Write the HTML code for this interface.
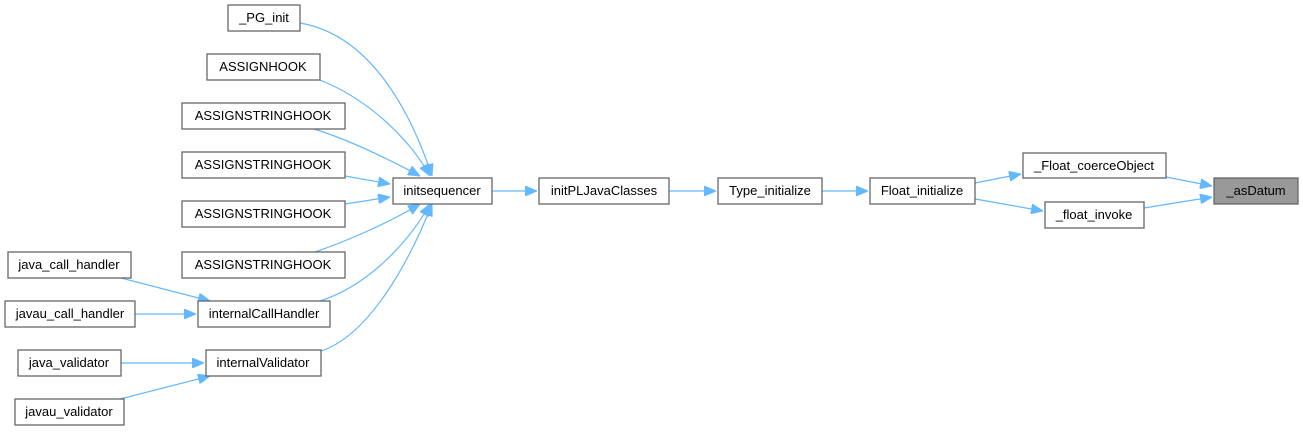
<!DOCTYPE html>
<html><head><meta charset="utf-8"><style>
body{margin:0;background:#fff;}
svg text{font-family:"Liberation Sans",Arial,sans-serif;font-size:13px;fill:#000;text-anchor:middle;}
.n{fill:#fff;stroke:#666;stroke-width:1.3;}
.e{fill:none;stroke:#63b8ff;stroke-width:1.2;}
</style></head><body>
<svg width="1303" height="431" viewBox="0 0 1303 431" xmlns="http://www.w3.org/2000/svg">
<defs><marker id="a" markerWidth="12" markerHeight="10" refX="12" refY="5" orient="auto" markerUnits="userSpaceOnUse"><path d="M0,0 L12,5 L0,10 z" fill="#63b8ff" stroke="#63b8ff"/></marker></defs>
<g class="e">
<path d="M300,23 C370,35 410,110 432,176" marker-end="url(#a)"/>
<path d="M320,80 C370,100 410,140 430,176" marker-end="url(#a)"/>
<path d="M314,129 C350,140 390,160 420,176" marker-end="url(#a)"/>
<path d="M345,176 L390,184" marker-end="url(#a)"/>
<path d="M345,204 L390,197" marker-end="url(#a)"/>
<path d="M315,252 C350,240 390,222 420,204" marker-end="url(#a)"/>
<path d="M320,301 C370,285 410,240 430,204" marker-end="url(#a)"/>
<path d="M321,351 C370,335 410,260 432,204" marker-end="url(#a)"/>
<path d="M492,191 L537,191" marker-end="url(#a)"/>
<path d="M669,191 L716,191" marker-end="url(#a)"/>
<path d="M822,191 L868,191" marker-end="url(#a)"/>
<path d="M975,183 L1021,174" marker-end="url(#a)"/>
<path d="M975,199 L1043,211" marker-end="url(#a)"/>
<path d="M1166,177 L1212,186" marker-end="url(#a)"/>
<path d="M1144,208 L1212,197" marker-end="url(#a)"/>
<path d="M121,278 L210,301" marker-end="url(#a)"/>
<path d="M135,314 L196,314" marker-end="url(#a)"/>
<path d="M121,363 L204,363" marker-end="url(#a)"/>
<path d="M120,399 L210,376" marker-end="url(#a)"/>
</g>
<rect class="n" x="228" y="5" width="72" height="26"/><text x="264" y="22">_PG_init</text>
<rect class="n" x="207" y="54" width="113" height="26"/><text x="263" y="71">ASSIGNHOOK</text>
<rect class="n" x="182" y="103" width="163" height="26"/><text x="263" y="120">ASSIGNSTRINGHOOK</text>
<rect class="n" x="182" y="152" width="163" height="26"/><text x="263" y="169">ASSIGNSTRINGHOOK</text>
<rect class="n" x="182" y="201" width="163" height="26"/><text x="263" y="218">ASSIGNSTRINGHOOK</text>
<rect class="n" x="182" y="252" width="163" height="26"/><text x="263" y="269">ASSIGNSTRINGHOOK</text>
<rect class="n" x="8" y="252" width="123" height="26"/><text x="69" y="269">java_call_handler</text>
<rect class="n" x="5" y="301" width="130" height="26"/><text x="70" y="318">javau_call_handler</text>
<rect class="n" x="18" y="350" width="103" height="26"/><text x="69" y="367">java_validator</text>
<rect class="n" x="15" y="399" width="109" height="26"/><text x="69" y="416">javau_validator</text>
<rect class="n" x="198" y="301" width="132" height="26"/><text x="264" y="318">internalCallHandler</text>
<rect class="n" x="206" y="350" width="115" height="26"/><text x="263" y="367">internalValidator</text>
<rect class="n" x="393" y="178" width="99" height="26"/><text x="442" y="195">initsequencer</text>
<rect class="n" x="539" y="178" width="130" height="26"/><text x="604" y="195">initPLJavaClasses</text>
<rect class="n" x="718" y="178" width="104" height="26"/><text x="770" y="195">Type_initialize</text>
<rect class="n" x="870" y="178" width="105" height="26"/><text x="922" y="195">Float_initialize</text>
<rect class="n" x="1023" y="153" width="143" height="25"/><text x="1094" y="170">_Float_coerceObject</text>
<rect class="n" x="1045" y="202" width="99" height="26"/><text x="1094" y="219">_float_invoke</text>
<rect x="1214" y="178" width="84" height="26" fill="#999" stroke="#666" stroke-width="1.3"/><text x="1256" y="195">_asDatum</text>
</svg>
</body></html>
